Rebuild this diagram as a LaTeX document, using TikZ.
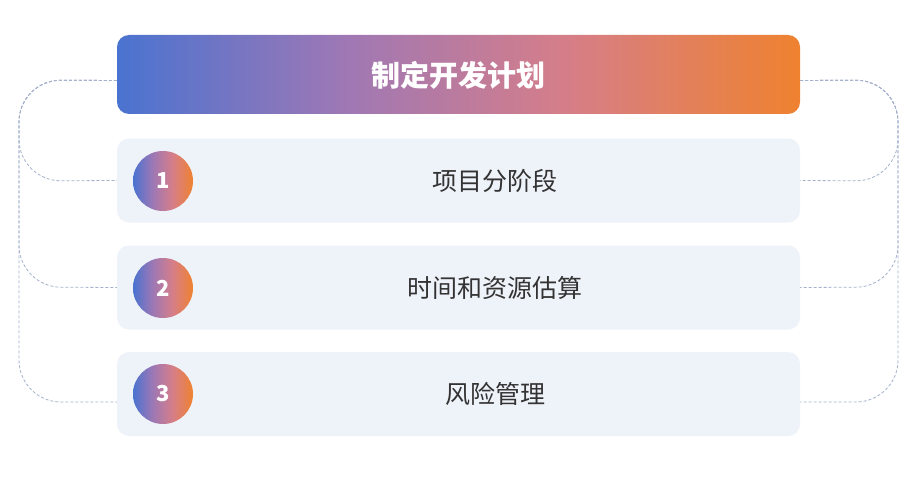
\documentclass[tikz,border=0pt]{standalone}
\usepackage{fontspec}
\newfontfamily\cjk{Noto Sans CJK SC}
\usetikzlibrary{backgrounds}
\definecolor{cardbg}{HTML}{EEF2F9}
\definecolor{connc}{HTML}{A3B1CC}
\definecolor{txt}{HTML}{333333}
\definecolor{gA}{HTML}{4A73D0}
\definecolor{gB}{HTML}{A078B4}
\definecolor{gC}{HTML}{D67E88}
\definecolor{gD}{HTML}{EF8230}
\pgfdeclarehorizontalshading{brand}{100bp}{color(0bp)=(gA); color(25bp)=(gA); color(42bp)=(gB); color(58bp)=(gC); color(75bp)=(gD); color(100bp)=(gD)}
\begin{document}
\begin{tikzpicture}[x=1pt,y=-1pt,
  hdrbox/.style={rectangle, rounded corners=12pt, minimum width=683pt, minimum height=79pt, shading=brand, draw=none, inner sep=0pt},
  card/.style={rectangle, rounded corners=12pt, minimum width=683pt, minimum height=84pt, fill=cardbg, draw=none, inner sep=0pt},
  badge/.style={circle, minimum size=60pt, shading=brand, draw=none, inner sep=0pt, text=white, font=\cjk\bfseries\fontsize{22pt}{22pt}\selectfont},
  itemtext/.style={text=txt, font=\cjk\fontsize{25pt}{25pt}\selectfont, inner sep=0pt},
  hdrtext/.style={text=white, font=\cjk\bfseries\fontsize{29pt}{29pt}\selectfont, inner sep=0pt},
  conn/.style={draw=connc, line width=0.8pt, dash pattern=on 3pt off 2pt, rounded corners=42pt}
]
\useasboundingbox (0,0) rectangle (920,500);

\node[hdrbox] (hdr) at (458.5,74.5) {};
\node[hdrtext] (ht) at (458.5,75) {制定开发计划};

\node[card] (c1) at (458.5,180.5) {};
\node[card] (c2) at (458.5,287.5) {};
\node[card] (c3) at (458.5,394) {};

\node[badge] (b1) at (163,181) {1};
\node[badge] (b2) at (163,288) {2};
\node[badge] (b3) at (163,394) {3};

\node[itemtext] (t1) at (495,181) {项目分阶段};
\node[itemtext] (t2) at (495,288) {时间和资源估算};
\node[itemtext] (t3) at (495,394) {风险管理};

\begin{scope}[on background layer]
  \fill[white] (0,0) rectangle (920,500);
  \draw[conn] ([yshift=-6pt]hdr.west) -- (19,80) -- (19,181) -- (c1.west);
  \draw[conn] ([yshift=-6pt]hdr.west) -- (19,80) -- (19,287) -- (c2.west);
  \draw[conn] ([yshift=-6pt]hdr.west) -- (19,80) -- (19,402) -- ([yshift=-8pt]c3.west);
  \draw[conn] ([yshift=-6pt]hdr.east) -- (898,80) -- (898,181) -- (c1.east);
  \draw[conn] ([yshift=-6pt]hdr.east) -- (898,80) -- (898,287) -- (c2.east);
  \draw[conn] ([yshift=-6pt]hdr.east) -- (898,80) -- (898,402) -- ([yshift=-8pt]c3.east);
\end{scope}
\end{tikzpicture}
\end{document}
